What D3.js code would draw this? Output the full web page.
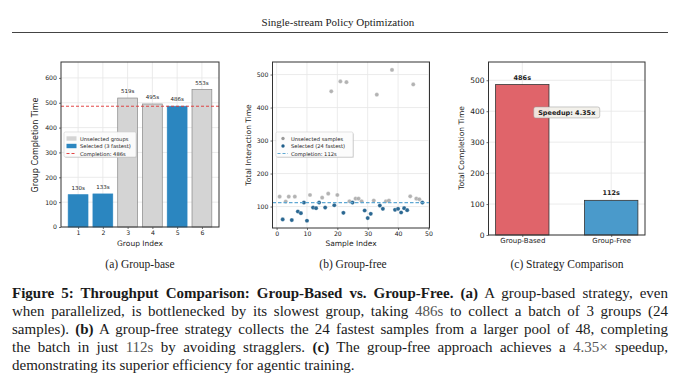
<!DOCTYPE html>
<html>
<head>
<meta charset="utf-8">
<script src="https://cdn.jsdelivr.net/npm/d3@7"></script>
<style>
  body { margin: 0; background: #fff; }
  svg { display: block; }
  .tick text { font-family: "DejaVu Sans", sans-serif; fill: #222; }
</style>
</head>
<body>
<svg id="chart" width="680" height="390"></svg>
<script>
// (a) group-based
var groupIds = [1, 2, 3, 4, 5, 6];
var groupTimes = [130, 133, 519, 495, 486, 553];
var groupSelected = [true, true, false, false, true, false];
var groupCompletion = 486;

// (b) group-free, samples 1..48
var sampleIds = d3.range(1, 49);
var sampleTimes = [130, 61, 115, 130, 59, 130, 85, 80, 112, 57, 135, 97, 95, 112, 127, 97,
  139, 449, 104, 135, 479, 81, 477, 116, 112, 124, 124, 116, 88, 65, 78, 118,
  439, 103, 93, 116, 118, 514, 90, 93, 82, 95, 89, 131, 470, 124, 122, 112];
var batchSize = 24;

// (c) strategy comparison
var strategies = ["Group-Based", "Group-Free"];
var strategyTimes = [486, 112];
var speedup = "4.35";

var svg = d3.select("#chart");
svg.append("rect").attr("width", 680).attr("height", 390).attr("fill", "#fff");

var sans = "'DejaVu Sans', sans-serif";
var serif = "'Liberation Serif', 'Times New Roman', serif";

// page header
svg.append("text").attr("x", 338).attr("y", 26).attr("text-anchor", "middle")
  .attr("font-family", serif).attr("font-size", 11).attr("fill", "#222")
  .text("Single-stream Policy Optimization");
svg.append("line").attr("x1", 12).attr("x2", 668).attr("y1", 32.5).attr("y2", 32.5)
  .attr("stroke", "#444").attr("stroke-width", 1);

function frame(g, x, y, xTicks, yTicks, fs) {
  var x0 = x.range()[0], x1 = x.range()[1], y0 = y.range()[0], y1 = y.range()[1];
  g.append("g").selectAll("line").data(xTicks).join("line")
    .attr("x1", function(d) { return x(d); }).attr("x2", function(d) { return x(d); })
    .attr("y1", y0).attr("y2", y1).attr("stroke", "#e6e6e6").attr("stroke-width", 0.8);
  g.append("g").selectAll("line").data(yTicks).join("line")
    .attr("y1", function(d) { return y(d); }).attr("y2", function(d) { return y(d); })
    .attr("x1", x0).attr("x2", x1).attr("stroke", "#e6e6e6").attr("stroke-width", 0.8);
  var ax = g.append("g").attr("transform", "translate(0," + y0 + ")")
    .call(d3.axisBottom(x).tickValues(xTicks).tickSize(2).tickPadding(1.5).tickFormat(d3.format("d")));
  var ay = g.append("g").attr("transform", "translate(" + x0 + ",0)")
    .call(d3.axisLeft(y).tickValues(yTicks).tickSize(2).tickPadding(2).tickFormat(d3.format("d")));
  [ax, ay].forEach(function(a) {
    a.select(".domain").remove();
    a.selectAll(".tick line").attr("stroke", "#333").attr("stroke-width", 0.7);
    a.selectAll(".tick text").attr("font-size", fs);
  });
  return ax;
}

function border(g, x, y) {
  g.append("rect").attr("x", x.range()[0]).attr("y", y.range()[1])
    .attr("width", x.range()[1] - x.range()[0]).attr("height", y.range()[0] - y.range()[1])
    .attr("fill", "none").attr("stroke", "#333").attr("stroke-width", 1);
}

function legendBox(g, x, y, w, h) {
  g.append("rect").attr("x", x + 1).attr("y", y + 1).attr("width", w).attr("height", h)
    .attr("rx", 1.5).attr("fill", "#bbb").attr("opacity", 0.5);
  g.append("rect").attr("x", x).attr("y", y).attr("width", w).attr("height", h)
    .attr("rx", 1.5).attr("fill", "#fff").attr("fill-opacity", 0.9)
    .attr("stroke", "#ccc").attr("stroke-width", 0.6);
}

// ---------- (a) ----------
var ga = svg.append("g");
var xa = d3.scaleLinear().domain([0.31, 6.69]).range([61, 219]);
var ya = d3.scaleLinear().domain([0, 664]).range([227, 62]);
frame(ga, xa, ya, groupIds, [0, 100, 200, 300, 400, 500, 600], 6.2);
var bw = xa(0.8) - xa(0);
ga.selectAll("rect.bar").data(groupIds).join("rect").attr("class", "bar")
  .attr("x", function(d) { return xa(d) - bw / 2; })
  .attr("y", function(d, i) { return ya(groupTimes[i]); })
  .attr("width", bw)
  .attr("height", function(d, i) { return ya(0) - ya(groupTimes[i]); })
  .attr("fill", function(d, i) { return groupSelected[i] ? "#2b86c0" : "#d4d4d4"; })
  .attr("stroke", function(d, i) { return groupSelected[i] ? "#2b86c0" : "#888"; })
  .attr("stroke-width", 0.7);
ga.selectAll("text.val").data(groupIds).join("text").attr("class", "val")
  .attr("x", function(d) { return xa(d); })
  .attr("y", function(d, i) { return ya(groupTimes[i]) - 5; })
  .attr("text-anchor", "middle").attr("font-family", sans).attr("font-size", 5.5).attr("fill", "#222")
  .text(function(d, i) { return groupTimes[i] + "s"; });
ga.append("line").attr("x1", xa.range()[0]).attr("x2", xa.range()[1])
  .attr("y1", ya(groupCompletion)).attr("y2", ya(groupCompletion))
  .attr("stroke", "#e03030").attr("stroke-width", 0.9).attr("stroke-dasharray", "3,2");
border(ga, xa, ya);
legendBox(ga, 64, 132, 72, 25);
var legA = [
  { t: "Unselected groups", c: "#d4d4d4", k: "rect" },
  { t: "Selected (3 fastest)", c: "#2b86c0", k: "rect" },
  { t: "Completion: " + groupCompletion + "s", c: "#e03030", k: "line" }
];
legA.forEach(function(d, i) {
  var yy = 138.5 + i * 7.5;
  if (d.k === "rect") {
    ga.append("rect").attr("x", 66.5).attr("y", yy - 2.2).attr("width", 10).attr("height", 4.4).attr("fill", d.c);
  } else {
    ga.append("line").attr("x1", 66.5).attr("x2", 76.5).attr("y1", yy).attr("y2", yy)
      .attr("stroke", d.c).attr("stroke-width", 0.9).attr("stroke-dasharray", "3,2");
  }
  ga.append("text").attr("x", 80).attr("y", yy + 2).attr("font-family", sans).attr("font-size", 5.2)
    .attr("fill", "#222").text(d.t);
});
ga.append("text").attr("x", 140).attr("y", 245.5).attr("text-anchor", "middle")
  .attr("font-family", sans).attr("font-size", 7.5).attr("fill", "#222").text("Group Index");
ga.append("text").attr("transform", "translate(38,145) rotate(-90)").attr("text-anchor", "middle")
  .attr("font-family", sans).attr("font-size", 8).attr("fill", "#222").text("Group Completion Time");

// ---------- (b) ----------
var gb = svg.append("g");
var xb = d3.scaleLinear().domain([-1.35, 50.35]).range([272.5, 429.5]);
var yb = d3.scaleLinear().domain([35, 538]).range([228, 62]);
frame(gb, xb, yb, [0, 10, 20, 30, 40, 50], [100, 200, 300, 400, 500], 6.2);
var cutoff = sampleTimes.slice().sort(d3.ascending)[batchSize - 1];
var sampleSel = sampleTimes.map(function(v) { return v <= cutoff; });
var completionB = d3.max(sampleTimes.filter(function(v, i) { return sampleSel[i]; }));
gb.selectAll("circle").data(sampleIds).join("circle")
  .attr("cx", function(d) { return xb(d); })
  .attr("cy", function(d, i) { return yb(sampleTimes[i]); })
  .attr("r", 2.1)
  .attr("fill", function(d, i) { return sampleSel[i] ? "#1f5f8b" : "#9a9a9a"; })
  .attr("fill-opacity", function(d, i) { return sampleSel[i] ? 0.95 : 0.75; })
  .attr("stroke", "#fff").attr("stroke-width", 0.3);
gb.append("line").attr("x1", xb.range()[0]).attr("x2", xb.range()[1])
  .attr("y1", yb(completionB)).attr("y2", yb(completionB))
  .attr("stroke", "#5fa8d3").attr("stroke-width", 1.3).attr("stroke-dasharray", "3.5,2");
border(gb, xb, yb);
legendBox(gb, 276, 132, 77, 25);
var legB = [
  { t: "Unselected samples", c: "#9a9a9a", k: "dot" },
  { t: "Selected (24 fastest)", c: "#1f5f8b", k: "dot" },
  { t: "Completion: " + completionB + "s", c: "#5fa8d3", k: "line" }
];
legB.forEach(function(d, i) {
  var yy = 138.5 + i * 7.5;
  if (d.k === "dot") {
    gb.append("circle").attr("cx", 283).attr("cy", yy).attr("r", 1.7).attr("fill", d.c);
  } else {
    gb.append("line").attr("x1", 277.5).attr("x2", 288).attr("y1", yy).attr("y2", yy)
      .attr("stroke", d.c).attr("stroke-width", 1).attr("stroke-dasharray", "3,2");
  }
  gb.append("text").attr("x", 291).attr("y", yy + 2).attr("font-family", sans).attr("font-size", 5.2)
    .attr("fill", "#222").text(d.t);
});
gb.append("text").attr("x", 351).attr("y", 246).attr("text-anchor", "middle")
  .attr("font-family", sans).attr("font-size", 7.5).attr("fill", "#222").text("Sample Index");
gb.append("text").attr("transform", "translate(251,145) rotate(-90)").attr("text-anchor", "middle")
  .attr("font-family", sans).attr("font-size", 7.5).attr("fill", "#222").text("Total Interaction Time");

// ---------- (c) ----------
var gc = svg.append("g");
var xc = d3.scaleLinear().domain([-0.38, 1.38]).range([488.5, 645]);
var yc = d3.scaleLinear().domain([0, 559]).range([235, 62]);
var axc = frame(gc, xc, yc, [0, 1], [0, 100, 200, 300, 400, 500], 7.5);
axc.selectAll(".tick text").text(function(d) { return strategies[d]; }).attr("font-size", 7);
var cw = xc(0.6) - xc(0);
var stratColors = ["#e0646a", "#4a9acb"];
gc.selectAll("rect.bar").data(strategies).join("rect").attr("class", "bar")
  .attr("x", function(d, i) { return xc(i) - cw / 2; })
  .attr("y", function(d, i) { return yc(strategyTimes[i]); })
  .attr("width", cw)
  .attr("height", function(d, i) { return yc(0) - yc(strategyTimes[i]); })
  .attr("fill", function(d, i) { return stratColors[i]; })
  .attr("stroke", "#333").attr("stroke-width", 0.8);
gc.selectAll("text.val").data(strategies).join("text").attr("class", "val")
  .attr("x", function(d, i) { return xc(i); })
  .attr("y", function(d, i) { return yc(strategyTimes[i]) - 5; })
  .attr("text-anchor", "middle").attr("font-family", sans).attr("font-size", 6.5)
  .attr("font-weight", "bold").attr("fill", "#222")
  .text(function(d, i) { return strategyTimes[i] + "s"; });
border(gc, xc, yc);
gc.append("rect").attr("x", xc(0.5) - 33).attr("y", yc(396) - 5.5).attr("width", 66).attr("height", 11)
  .attr("rx", 2).attr("fill", "#f2efe9").attr("fill-opacity", 0.9).attr("stroke", "#999").attr("stroke-width", 0.5);
gc.append("text").attr("x", xc(0.5)).attr("y", yc(396) + 2.4).attr("text-anchor", "middle")
  .attr("font-family", sans).attr("font-size", 6.5).attr("font-weight", "bold").attr("fill", "#222")
  .text("Speedup: " + speedup + "x");
gc.append("text").attr("transform", "translate(464,148) rotate(-90)").attr("text-anchor", "middle")
  .attr("font-family", sans).attr("font-size", 7.5).attr("fill", "#222").text("Total Completion Time");

// subplot titles
[["(a) Group-base", 140], ["(b) Group-free", 353], ["(c) Strategy Comparison", 567]].forEach(function(d) {
  svg.append("text").attr("x", d[1]).attr("y", 268).attr("text-anchor", "middle")
    .attr("font-family", serif).attr("font-size", 11.5).attr("fill", "#222").text(d[0]);
});

// figure caption
var captionLines = [
  [["b", "Figure 5: Throughput Comparison: Group-Based vs. Group-Free."], ["n", " "], ["b", "(a)"], ["n", " A group-based strategy, even"]],
  [["n", "when parallelized, is bottlenecked by its slowest group, taking "], ["m", "486s"], ["n", " to collect a batch of 3 groups (24"]],
  [["n", "samples). "], ["b", "(b)"], ["n", " A group-free strategy collects the 24 fastest samples from a larger pool of 48, completing"]],
  [["n", "the batch in just "], ["m", "112s"], ["n", " by avoiding stragglers. "], ["b", "(c)"], ["n", " The group-free approach achieves a "], ["m", "4.35×"], ["n", " speedup,"]],
  [["n", "demonstrating its superior efficiency for agentic training."]]
];
var capX = 12, capW = 656;
captionLines.forEach(function(line, li) {
  var t = svg.append("text").attr("x", capX).attr("y", 298 + li * 18)
    .attr("font-family", serif).attr("font-size", 15).attr("fill", "#1a1a1a");
  line.forEach(function(s) {
    var sp = t.append("tspan").text(s[1]);
    if (s[0] === "b") sp.attr("font-weight", "bold");
    if (s[0] === "m") sp.attr("fill", "#555");
  });
  if (li < captionLines.length - 1) {
    var w = t.node().getComputedTextLength();
    var spaces = line.map(function(s) { return s[1]; }).join("").split(" ").length - 1;
    t.attr("word-spacing", (capW - w) / spaces);
  }
});
</script>
</body>
</html>
